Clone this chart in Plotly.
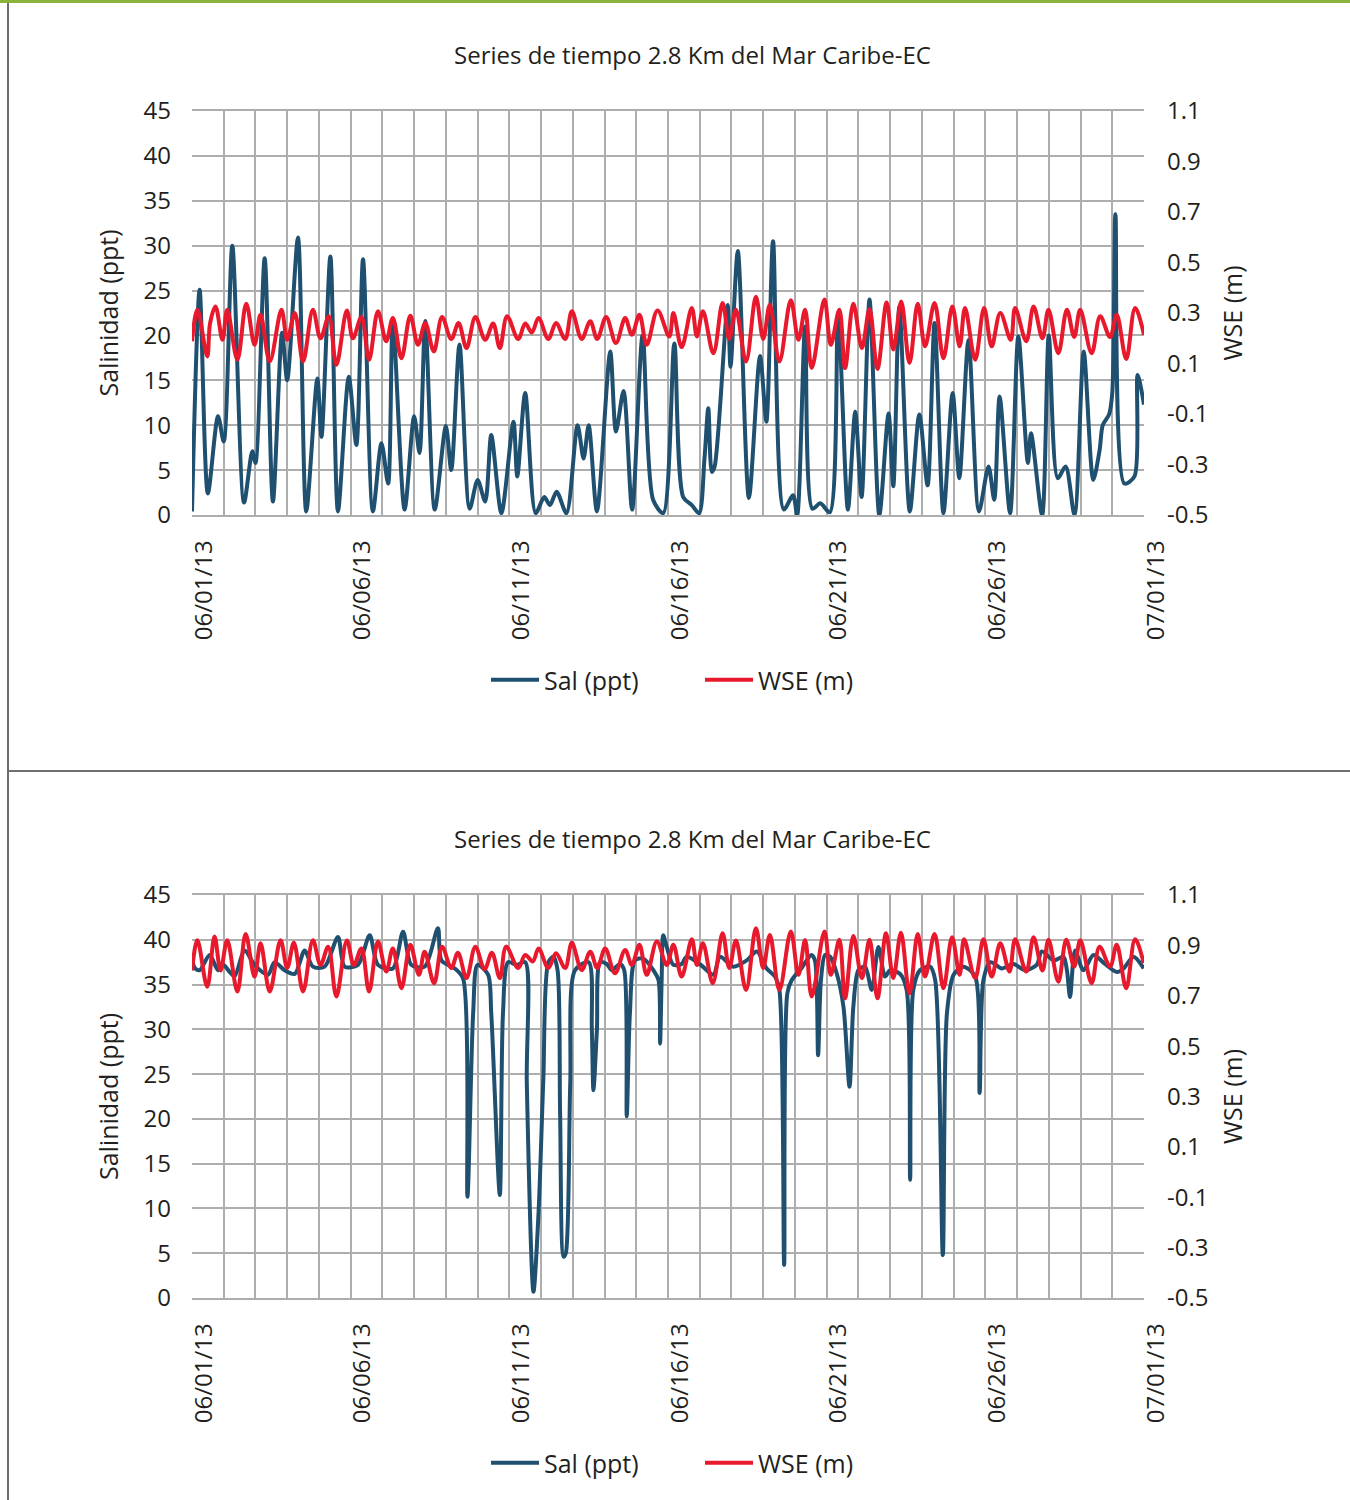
import pandas as pd
import plotly.graph_objects as go

START = "2013-06-01"
TITLE = "Series de tiempo 2.8 Km del Mar Caribe-EC"

# ---- Top chart: salinity (ppt) ----
sal1_day = [0.0, 0.24, 0.5, 0.82, 1.0, 1.27, 1.64, 1.9, 2.0, 2.29, 2.55, 2.84, 3.0, 3.34, 3.6, 3.95, 4.08, 4.36,
            4.6, 4.94, 5.18, 5.39, 5.7, 5.97, 6.18, 6.33, 6.7, 7.0, 7.17, 7.35, 7.65, 8.0, 8.17, 8.43, 8.75, 9.0,
            9.24, 9.43, 9.75, 10.13, 10.25, 10.5, 10.83, 11.1, 11.28, 11.49, 11.8, 12.15, 12.34, 12.5, 12.76,
            13.18, 13.36, 13.6, 13.87, 14.2, 14.53, 14.85, 15.2, 15.48, 15.75, 15.98, 16.15, 16.27, 16.38, 16.47,
            16.88, 16.97, 17.2, 17.55, 17.9, 18.1, 18.31, 18.65, 18.94, 19.07, 19.32, 19.55, 19.8, 20.1, 20.36,
            20.67, 20.9, 21.1, 21.35, 21.66, 21.95, 22.1, 22.29, 22.62, 22.92, 23.18, 23.4, 23.68, 23.97, 24.18,
            24.47, 24.8, 25.1, 25.28, 25.45, 25.78, 26.04, 26.34, 26.44, 26.79, 27.0, 27.28, 27.53, 27.81, 28.1,
            28.4, 28.6, 28.7, 28.9, 29.0, 29.1, 29.38, 29.7, 29.8, 30.0]
sal1_val = [0.4, 25.1, 2.4, 11.0, 8.2, 30.0, 1.4, 7.1, 5.8, 28.6, 1.5, 20.3, 15.0, 30.9, 0.4, 15.2, 8.7, 28.8,
            0.4, 15.4, 7.8, 28.5, 0.4, 8.0, 3.5, 21.6, 0.6, 11.0, 6.9, 21.6, 0.6, 9.9, 5.0, 19.0, 0.7, 3.9,
            1.5, 8.9, 0.2, 10.4, 4.3, 13.6, 0.2, 2.0, 1.1, 2.6, 0.2, 10.0, 6.3, 10.0, 0.4,
            18.2, 9.3, 13.8, 0.6, 20.0, 1.7, 0.2, 19.1, 2.0, 1.1, 0.2, 6.3, 11.9, 4.8, 5.4,
            23.4, 16.5, 29.4, 1.9, 17.7, 10.4, 30.5, 0.6, 2.2, 0.0, 21.0, 0.7, 1.3, 0.3, 22.1,
            0.6, 11.5, 2.0, 24.0, 0.0, 11.3, 3.2, 23.2, 0.4, 11.2, 3.3, 21.4, 0.2, 13.6, 4.1,
            19.5, 0.4, 5.4, 1.7, 13.2, 0.2, 19.9, 5.8, 9.1, 0.0, 20.0, 4.1, 5.4, 0.0, 18.2,
            3.9, 7.2, 10.0, 11.2, 13.6, 33.5, 3.5, 4.3, 15.6, 12.3]

# ---- Top chart: water surface elevation (m) ----
wse1_day = [0.0, 0.17, 0.48, 0.57, 0.74, 0.96, 1.11, 1.43, 1.71, 1.97, 2.16, 2.45, 2.82, 3.0, 3.24, 3.5, 3.81,
            4.05, 4.31, 4.55, 4.88, 5.07, 5.34, 5.58, 5.86, 6.12, 6.33, 6.6, 6.88, 7.12, 7.35, 7.62, 7.88, 8.17,
            8.4, 8.65, 8.93, 9.24, 9.49, 9.7, 9.93, 10.28, 10.5, 10.71, 10.92, 11.23, 11.47, 11.76, 11.97, 12.28,
            12.55, 12.77, 13.05, 13.36, 13.65, 13.86, 14.1, 14.33, 14.67, 15.04, 15.17, 15.43, 15.75, 15.91,
            16.1, 16.43, 16.72, 16.93, 17.14, 17.46, 17.77, 18.0, 18.21, 18.51, 18.87, 19.11, 19.32, 19.53,
            19.93, 20.13, 20.4, 20.58, 20.84, 21.11, 21.35, 21.6, 21.89, 22.1, 22.35, 22.61, 22.87, 23.1, 23.4,
            23.68, 23.96, 24.19, 24.36, 24.68, 24.96, 25.2, 25.47, 25.8, 25.94, 26.29, 26.52, 26.8, 26.99, 27.3,
            27.57, 27.8, 27.99, 28.35, 28.62, 28.93, 29.14, 29.44, 29.72, 30.0]
wse1_val = [0.188, 0.313, 0.128, 0.26, 0.326, 0.194, 0.313, 0.115, 0.337, 0.174, 0.293, 0.108, 0.313, 0.194,
            0.3, 0.108, 0.313, 0.2, 0.287, 0.095, 0.31, 0.2, 0.284, 0.115, 0.307, 0.188, 0.28, 0.121, 0.289,
            0.174, 0.26, 0.148, 0.284, 0.197, 0.26, 0.161, 0.284, 0.194, 0.258, 0.161, 0.287, 0.197, 0.258,
            0.223, 0.28, 0.197, 0.26, 0.197, 0.307, 0.197, 0.267, 0.197, 0.284, 0.181, 0.28, 0.214, 0.293,
            0.174, 0.31, 0.207, 0.3, 0.165, 0.32, 0.207, 0.307, 0.141, 0.34, 0.197, 0.313, 0.108, 0.364,
            0.197, 0.333, 0.108, 0.35, 0.194, 0.313, 0.082, 0.353, 0.174, 0.313, 0.082, 0.337, 0.161, 0.316,
            0.078, 0.342, 0.155, 0.346, 0.102, 0.337, 0.168, 0.34, 0.121, 0.326, 0.168, 0.32, 0.115, 0.32,
            0.168, 0.3, 0.194, 0.32, 0.188, 0.326, 0.2, 0.313, 0.141, 0.313, 0.205, 0.313, 0.141, 0.287,
            0.205, 0.293, 0.118, 0.32, 0.214]

# ---- Bottom chart: salinity (ppt) ----
sal2_day = [0.0, 0.1, 0.24, 0.56, 0.82, 0.98, 1.19, 1.34, 1.66, 1.97, 2.4, 2.6, 2.92, 3.24, 3.55, 3.81, 4.18,
            4.6, 4.81, 5.23, 5.6, 5.86, 6.33, 6.65, 6.91, 7.33, 7.75, 7.86, 8.28, 8.54, 8.68, 8.86, 9.0, 9.33,
            9.43, 9.7, 9.8, 9.96, 10.23, 10.5, 10.55, 10.76, 10.92, 11.07, 11.23, 11.39, 11.52, 11.6, 11.71,
            11.78, 11.92, 12.07, 12.5, 12.6, 12.65, 12.76, 12.86, 13.07, 13.23, 13.49, 13.62, 13.7, 13.8, 13.96,
            14.22, 14.54, 14.7, 14.75, 14.8, 14.85, 14.96, 15.17, 15.43, 15.59, 16.0, 16.43, 16.64, 17.06,
            17.48, 17.8, 18.11, 18.37, 18.51, 18.66, 18.76, 18.9, 19.2, 19.52, 19.63, 19.73, 19.82, 19.95,
            20.11, 20.32, 20.53, 20.72, 20.84, 21.0, 21.21, 21.42, 21.63, 21.84, 22.0, 22.31, 22.52, 22.63,
            22.73, 22.94, 23.26, 23.42, 23.66, 23.79, 24.0, 24.31, 24.68, 24.82, 24.94, 25.16, 25.52, 25.89,
            26.25, 26.62, 26.78, 27.15, 27.46, 27.57, 27.67, 27.83, 28.09, 28.41, 28.77, 29.15, 29.36, 29.67,
            29.99]
sal2_val = [37.7, 36.8, 36.6, 38.3, 36.6, 37.2, 36.4, 35.9, 38.8, 37.2, 36.1, 37.5, 36.6, 36.2, 38.8, 37.0, 37.0,
            40.3, 37.0, 37.2, 40.5, 37.2, 36.8, 40.9, 37.2, 37.0, 41.3, 37.7, 36.8, 35.7, 11.3, 31.8, 37.2, 36.1,
            31.8, 11.5, 31.8, 37.5, 37.2, 37.5, 24.0, 0.7, 9.5, 24.3, 37.5, 38.1, 36.6, 20.6, 4.6,
            5.0, 24.0, 36.6, 37.5, 30.0, 23.2, 30.0, 37.5, 37.3, 36.6, 37.3, 36.6, 20.3, 31.8, 37.7,
            37.9, 36.6, 35.5, 28.4, 35.5, 40.5, 39.2, 37.2, 37.3, 38.1, 37.3, 36.1, 38.1, 37.0,
            37.7, 38.7, 36.8, 35.9, 34.4, 3.7, 34.0, 35.5, 36.8, 38.3, 37.7, 27.1, 35.5, 38.3,
            38.1, 36.2, 32.5, 23.6, 32.5, 36.6, 37.0, 34.4, 39.2, 35.9, 36.6, 36.2, 34.4, 13.2,
            34.4, 36.6, 37.0, 35.5, 4.8, 31.8, 36.1, 37.0, 35.9, 22.9, 35.5, 37.5, 36.8, 37.3,
            36.6, 37.2, 38.7, 37.7, 38.1, 36.6, 33.6, 38.8, 36.6, 38.3, 37.3, 36.4, 36.8, 38.1,
            36.8]

# ---- Bottom chart: water surface elevation (m) ----
wse2_day = [0.0, 0.17, 0.48, 0.71, 0.9, 1.11, 1.43, 1.69, 1.97, 2.16, 2.45, 2.79, 3.0, 3.21, 3.5, 3.81, 4.05,
            4.29, 4.55, 4.88, 5.1, 5.34, 5.58, 5.86, 6.12, 6.33, 6.6, 6.88, 7.15, 7.33, 7.63, 7.88, 8.17, 8.38,
            8.65, 8.93, 9.22, 9.45, 9.7, 9.9, 10.28, 10.5, 10.74, 10.92, 11.23, 11.47, 11.76, 11.97, 12.28,
            12.55, 12.77, 13.02, 13.33, 13.65, 13.86, 14.1, 14.33, 14.65, 14.96, 15.17, 15.43, 15.75, 15.91,
            16.1, 16.41, 16.72, 16.93, 17.14, 17.46, 17.77, 18.0, 18.21, 18.51, 18.87, 19.11, 19.32, 19.53,
            19.93, 20.13, 20.4, 20.58, 20.84, 21.11, 21.35, 21.6, 21.87, 22.1, 22.34, 22.61, 22.87, 23.1, 23.4,
            23.68, 23.95, 24.19, 24.33, 24.68, 24.94, 25.2, 25.47, 25.76, 25.94, 26.29, 26.52, 26.8, 26.99,
            27.3, 27.55, 27.8, 27.99, 28.35, 28.6, 28.93, 29.14, 29.44, 29.72, 29.99]
wse2_val = [0.8, 0.92, 0.736, 0.935, 0.8, 0.92, 0.717, 0.945, 0.776, 0.908, 0.717, 0.92, 0.81, 0.91, 0.717,
            0.92, 0.822, 0.895, 0.697, 0.919, 0.822, 0.888, 0.717, 0.915, 0.796, 0.888, 0.73, 0.902, 0.783,
            0.875, 0.75, 0.895, 0.81, 0.871, 0.77, 0.895, 0.805, 0.871, 0.77, 0.895, 0.81, 0.862, 0.836,
            0.888, 0.81, 0.869, 0.81, 0.91, 0.802, 0.875, 0.81, 0.888, 0.789, 0.882, 0.822, 0.902, 0.783,
            0.915, 0.822, 0.902, 0.776, 0.924, 0.822, 0.908, 0.75, 0.948, 0.81, 0.919, 0.723, 0.968, 0.81,
            0.941, 0.723, 0.955, 0.783, 0.921, 0.697, 0.955, 0.783, 0.922, 0.69, 0.937, 0.77, 0.922, 0.69,
            0.948, 0.77, 0.95, 0.71, 0.945, 0.776, 0.945, 0.73, 0.932, 0.783, 0.924, 0.77, 0.924, 0.776,
            0.908, 0.796, 0.924, 0.796, 0.932, 0.8, 0.922, 0.756, 0.922, 0.816, 0.92, 0.75, 0.895, 0.816,
            0.902, 0.73, 0.924, 0.83]

SAL_TICKS = [0, 5, 10, 15, 20, 25, 30, 35, 40, 45]
WSE_TICKS = [-0.5, -0.3, -0.1, 0.1, 0.3, 0.5, 0.7, 0.9, 1.1]

BLUE = "#1F5070"
RED = "#E8192C"
GRID = "#AEAEAE"
TXT = "#231F20"
FONT = "Open Sans, Noto Sans, sans-serif"
W, H = 1350, 1500


def to_dates(days):
    return pd.Timestamp(START) + pd.to_timedelta(days, unit="D")


fig = go.Figure()

panels = [
    (sal1_day, sal1_val, wse1_day, wse1_val, "x", "y", "y2", "legend"),
    (sal2_day, sal2_val, wse2_day, wse2_val, "x2", "y3", "y4", "legend2"),
]
for sd, sv, wd, wv, xa, ya, ya2, lg in panels:
    fig.add_trace(go.Scatter(x=to_dates(sd), y=sv, mode="lines", name="Sal (ppt)",
                             line=dict(color=BLUE, width=4, shape="spline", smoothing=0.8),
                             xaxis=xa, yaxis=ya, legend=lg))
    fig.add_trace(go.Scatter(x=to_dates(wd), y=wv, mode="lines", name="WSE (m)",
                             line=dict(color=RED, width=4, shape="spline", smoothing=1.0),
                             xaxis=xa, yaxis=ya2, legend=lg))


def py(px):
    return 1 - px / H


def px_(px):
    return px / W


xdom = [px_(192), px_(1144)]
dom_top = [py(515), py(111)]
dom_bot = [py(1298), py(895)]

xcommon = dict(type="date", range=[START, "2013-07-01"], tick0=START, dtick=5 * 86400000,
               tickformat="%m/%d/%y", tickangle=-90, showgrid=True, gridcolor=GRID, gridwidth=1.5,
               minor=dict(dtick=86400000, showgrid=True, gridcolor=GRID, gridwidth=1.5),
               showline=True, linecolor=GRID, linewidth=1.5, mirror=True, ticks="",
               tickfont=dict(family=FONT, size=24, color=TXT), automargin=False,
               ticklabelstandoff=14, ticklabelshift=12, domain=xdom, zeroline=False)
ycommon = dict(range=[0, 45], tickvals=SAL_TICKS, showgrid=True, gridcolor=GRID, gridwidth=1.5,
               zeroline=False, ticks="", tickfont=dict(family=FONT, size=24, color=TXT), automargin=False,
               title=dict(text="Salinidad (ppt)", font=dict(family=FONT, size=25, color=TXT),
                          standoff=17),
               ticklabelstandoff=20)
y2common = dict(range=[-0.5, 1.1], tickvals=WSE_TICKS, ticktext=[str(v) for v in WSE_TICKS],
                side="right", showgrid=False, zeroline=False, ticks="", automargin=False,
                tickfont=dict(family=FONT, size=24, color=TXT),
                title=dict(text="WSE (m)", font=dict(family=FONT, size=25, color=TXT), standoff=17),
                ticklabelstandoff=22)

legcommon = dict(orientation="h", xanchor="left", x=px_(486), yanchor="middle",
                 font=dict(family=FONT, size=25, color=TXT), entrywidth=151, entrywidthmode="pixels",
                 itemwidth=48, bgcolor="rgba(0,0,0,0)")

fig.update_layout(
    width=W, height=H, margin=dict(l=0, r=0, t=0, b=0, autoexpand=False),
    paper_bgcolor="white", plot_bgcolor="white",
    xaxis=dict(anchor="y", **xcommon),
    yaxis=dict(domain=dom_top, anchor="x", **ycommon),
    yaxis2=dict(domain=dom_top, anchor="x", overlaying="y", **y2common),
    xaxis2=dict(anchor="y3", **xcommon),
    yaxis3=dict(domain=dom_bot, anchor="x2", **ycommon),
    yaxis4=dict(domain=dom_bot, anchor="x2", overlaying="y3", **y2common),
    legend=dict(y=py(680), **legcommon),
    legend2=dict(y=py(1463), **legcommon),
    showlegend=True,
)

for ty in (55, 838):
    fig.add_annotation(text=TITLE, x=px_(692), y=py(ty), xref="paper", yref="paper", showarrow=False,
                       xanchor="center", yanchor="middle",
                       font=dict(family=FONT, size=24, color=TXT))

# page frame: green top rule, left border, separator
fig.add_shape(type="rect", xref="paper", yref="paper", x0=0, x1=1, y0=py(3), y1=1,
              fillcolor="#8DB33A", line=dict(width=0))
fig.add_shape(type="line", xref="paper", yref="paper", x0=px_(8), x1=px_(8), y0=0, y1=py(3),
              line=dict(color="#6D6E71", width=2))
fig.add_shape(type="line", xref="paper", yref="paper", x0=px_(8), x1=1, y0=py(771), y1=py(771),
              line=dict(color="#6D6E71", width=2))

fig.write_html("out.html", config={"displayModeBar": False},
               post_script="document.body.style.margin='0';document.body.style.padding='0';")
